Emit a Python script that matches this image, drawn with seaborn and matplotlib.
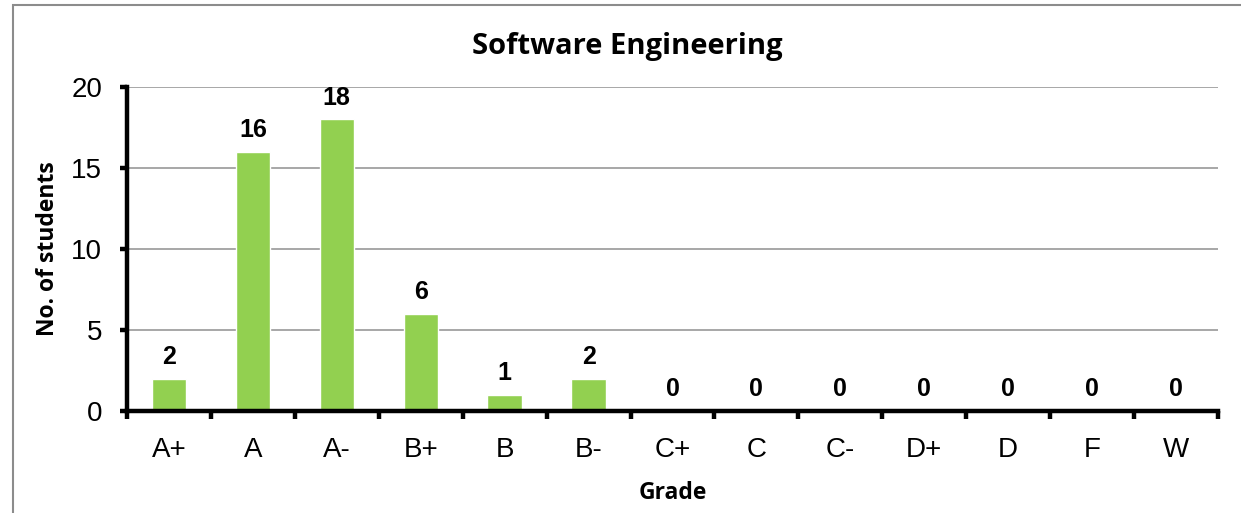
import matplotlib
matplotlib.use("Agg")
import matplotlib.pyplot as plt
import seaborn as sns
import pandas as pd
from matplotlib.patches import Rectangle
from matplotlib.ticker import FixedLocator

grades = ['A+', 'A', 'A-', 'B+', 'B', 'B-', 'C+', 'C', 'C-', 'D+', 'D', 'F', 'W']
students = [2, 16, 18, 6, 1, 2, 0, 0, 0, 0, 0, 0, 0]

sns.set_theme(style='white')
plt.rcParams['font.family'] = ['Liberation Sans', 'DejaVu Sans']
plt.rcParams['text.color'] = 'black'
plt.rcParams['axes.labelcolor'] = 'black'
plt.rcParams['xtick.color'] = 'black'
plt.rcParams['ytick.color'] = 'black'

df = pd.DataFrame({'Grade': grades, 'Students': students})

fig = plt.figure(figsize=(12.41, 5.13), dpi=100)
ax = fig.add_axes([127 / 1241, 1 - 411 / 513, (1218 - 127) / 1241, (411 - 87) / 513])

sns.barplot(data=df, x='Grade', y='Students', color='#92D050', saturation=1,
            width=0.41, ax=ax, zorder=3)

ax.set_xlim(-0.5, len(grades) - 0.5)
ax.set_ylim(0, 20)
ax.set_yticks([0, 5, 10, 15, 20])
ax.yaxis.grid(True, color='#A0A0A0', linewidth=1.3, zorder=0)
ax.set_axisbelow(True)

for side in ['top', 'right']:
    ax.spines[side].set_visible(False)
for side in ['left', 'bottom']:
    ax.spines[side].set_linewidth(3.2)
    ax.spines[side].set_color('black')
    ax.spines[side].set_zorder(5)

ax.tick_params(axis='y', which='major', direction='out', length=5, width=3.2,
               color='black', labelsize=20, pad=13, left=True)
ax.tick_params(axis='x', which='major', length=0, labelsize=20, pad=19)
ax.xaxis.set_minor_locator(FixedLocator([i - 0.5 for i in range(len(grades) + 1)]))
ax.tick_params(axis='x', which='minor', direction='out', length=6, width=3.2,
               color='black', bottom=True)

for c in ax.containers:
    ax.bar_label(c, labels=[str(v) for v in students], padding=7,
                 fontsize=18, fontweight='bold', color='black')

ax.set_xlabel('Grade', fontsize=16.5, fontweight='bold', family=['Open Sans', 'DejaVu Sans'],
              labelpad=13)
ax.set_ylabel('No. of students', fontsize=16.5, fontweight='bold',
              family=['Open Sans', 'DejaVu Sans'], labelpad=8)

fig.text(627 / 1241, 1 - 47 / 513, 'Software Engineering', ha='center', va='center',
         fontsize=21, fontweight='bold', family=['Open Sans', 'DejaVu Sans'])

fig.patches.append(Rectangle((13 / 1241, -0.1), 1.0, 1 - 5 / 513 + 0.1,
                             transform=fig.transFigure, fill=False,
                             edgecolor='#8C8C8C', linewidth=1.5))

fig.savefig('out.png', dpi=100, facecolor='white')
